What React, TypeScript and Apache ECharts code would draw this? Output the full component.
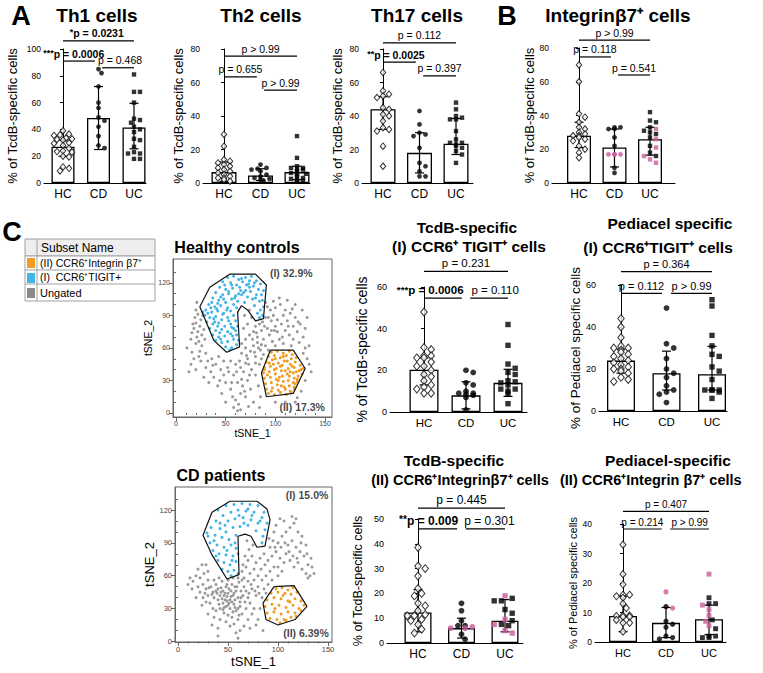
import React, { useEffect, useRef } from "react";
import * as echarts from "echarts";

const FONT = "Liberation Sans, Arial, Helvetica, sans-serif";
const PINK = "#CC5C9C";
const CATS = ["HC", "CD", "UC"];

// ---------- Panel A: Th1 ----------
const th1HC = [39, 36.5, 36, 35.5, 33.5, 33, 32.5, 32, 30, 29.5, 28, 26, 24, 23.5, 23, 20, 19.5, 12, 11, 9];
const th1CD = [85, 82, 72, 60, 56, 49, 46.5, 42, 35, 28, 26];
const th1UC = [81, 68, 68, 60, 48, 47, 45, 42, 40, 38, 33, 32, 27, 23, 22, 22, 18, 18];
const th1Bar = [27, 48.5, 41.5];
const th1Lo = [20, 25, 25.5];
const th1Hi = [32, 72, 59.5];

// ---------- Th2 ----------
const th2HC = [29, 22, 14, 13, 12, 11, 10, 9, 8, 7, 6, 5, 4, 3, 3, 2, 1];
const th2CD = [11, 9, 8.5, 8, 7, 5, 4, 3, 2.5, 2, 1.5];
const th2UC = [28, 15, 10, 9, 9, 8, 8, 7, 6, 5.5, 5, 4, 3, 2.5, 2, 1.5, 1];
const th2Bar = [6.5, 4.5, 6.5];
const th2Lo = [1, 1.5, 2];
const th2Hi = [12.5, 8.5, 10];

// ---------- Th17 ----------
const th17HC = [66, 55, 53, 52, 51, 45, 44, 41, 40, 37, 33, 32, 31, 22, 10];
const th17CD = [43, 35, 30, 29, 28, 21, 12, 10, 7, 4, 4];
const th17UC = [48, 44, 40, 39, 38, 38, 31, 26, 24, 24, 23, 22, 21, 19, 17, 12];
const th17Bar = [44, 18, 23.5];
const th17Lo = [32, 6, 17];
const th17Hi = [51.5, 30, 38.5];

// ---------- Panel B: Integrin b7+ ----------
const intHC = [70, 60, 41, 39, 36, 33, 32, 30, 29, 28, 28, 27, 26, 25, 22, 20, 18, 15];
const intCDBlack = [33, 33, 32, 32, 27, 22, 9, 6];
const intCDPink = [17, 17, 17, 17];
const intUCBlack = [42, 37, 36, 33, 31, 30, 29, 27, 22, 18, 16];
const intUCPink = [32, 26, 21, 16, 14, 12];
const intBar = [28, 21, 26];
const intLo = [21, 9.5, 16.5];
const intHi = [36, 32, 33];

// ---------- TcdB-specific (I) ----------
const tIHC = [48, 31, 30, 27, 27, 26, 26, 24, 22, 22, 20, 18, 17, 15, 13, 12, 11, 9, 9];
const tICD = [20, 19, 14, 13, 10, 9, 9, 8.5, 8, 7, 1];
const tIUC = [42, 32, 23, 21, 19, 18, 15, 14.5, 14, 13, 11, 11, 10, 9, 4];
const tIBar = [20.3, 8, 14];
const tILo = [13, 1.5, 7.5];
const tIHi = [26, 14.5, 20.5];

// ---------- Pediacel specific (I) ----------
const pIHC = [44, 40, 35, 31, 30, 30, 29, 28, 27, 26, 25, 24, 23, 22, 21, 20, 20, 19, 18, 16, 15, 14];
const pICD = [49, 32, 30, 25, 20, 18, 16, 12, 10, 9, 8, 4];
const pIUC = [53, 50, 36, 31, 27, 26, 21, 19, 15, 10, 10, 10, 10, 9, 6];
const pIBar = [24, 18, 17.5];
const pILo = [18, 10, 10];
const pIHi = [29.5, 28.5, 30.8];

// ---------- TcdB-specific (II) ----------
const tIIHC = [38.5, 31, 30, 27, 22, 20, 19, 16, 15, 13, 11.5, 11, 11, 9.5, 9, 7.5, 5.5, 4];
const tIICDBlack = [16, 13, 9, 7, 7, 3.5, 1.5];
const tIICDPink = [6.5, 6, 6];
const tIIUCBlack = [18, 17, 17, 13.5, 12, 9, 7.5, 7];
const tIIUCPink = [19, 9.5, 7.5, 5, 4];
const tIIBar = [12.3, 6, 9];
const tIILo = [4.5, 2, 4.5];
const tIIHi = [21.5, 10, 17.5];

// ---------- Pediacel-specific (II) ----------
const pIIHC = [33, 23, 19.5, 16, 16, 15.5, 15, 13, 11.5, 9, 9, 8.8, 8.5, 8.5, 7.5, 6.5, 6.5, 3.5];
const pIICDBlack = [12, 7, 6, 5, 2, 1.5, 1];
const pIICDPink = [17, 11.5];
const pIIUCBlack = [15, 13, 13, 7.5, 4.5, 2, 2, 1.5, 1.5];
const pIIUCPink = [23, 12.5, 11, 9, 7, 5.5];
const pIIBar = [8.8, 6.5, 7.7];
const pIILo = [3.5, 1.5, 2.5];
const pIIHi = [15.5, 11.7, 12.5];

// ---------- tSNE (x y pairs) ----------
const HC_BLUE = "52 125 58 126 63 123 70 125 76 126 81 122 85 119 88 113 47 121 55 120 61 118 67 121 73 119 78 117 83 114 86 109 44 116 50 114 57 115 64 116 70 113 75 112 81 109 87 104 40 111 47 109 53 110 60 108 66 109 72 107 77 105 84 103 88 98 37 106 43 104 50 102 56 105 62 103 69 102 79 99 85 95 87 90 82 92 84 88 33 100 39 98 45 99 52 97 58 100 30 95 36 93 42 94 48 92 55 94 61 97 29 90 34 88 40 89 46 86 52 88 58 90 31 84 37 82 43 83 49 80 55 82 60 85 34 78 40 76 46 77 52 75 58 78 37 72 43 70 49 71 55 73 61 72 40 67 46 65 52 66 58 68 63 67 50 61 56 60 61 63 54 58 44 74 47 91 38 87 57 71 62 80 32 92 41 96 65 113 71 118 59 106 45 107 53 112 36 102 68 111 74 116 80 106 51 95 42 80 66 124 74 122 79 120 56 118 49 118 63 110 48 105 35 97 27 93 39 84 53 85 56 79 45 68 60 76 42 101";
const HC_ORANGE = "96 56 102 57 108 55 114 57 117 54 93 52 99 53 105 51 111 53 116 50 121 51 91 47 97 49 103 46 109 48 115 45 120 47 125 44 89 42 95 43 101 41 107 44 113 41 119 42 124 39 128 41 88 37 94 38 100 36 106 39 112 36 118 37 123 34 127 36 89 32 95 33 101 31 107 34 113 30 119 32 122 29 90 27 96 28 102 26 108 29 114 25 120 27 119 24 91 22 97 23 103 21 109 24 115 20 119 22 93 18 99 17 105 19 111 17 116 19 98 45 110 39 104 33 117 43 92 35 106 25 100 50 112 48 121 38 96 20 114 34 108 52 103 30 118 28 94 46 110 22 126 40 99 40 115 38 89 40 105 43 122 31";
const HC_GRAY = "18 78 20 83 22 75 24 80 21 70 25 86 19 88 23 66 26 72 27 90 17 82 22 91 28 77 26 62 20 64 24 57 16 74 29 68 15 45 20 40 25 48 30 42 35 38 28 33 33 28 38 33 42 25 45 40 40 45 48 35 50 28 55 22 52 42 58 35 46 18 36 50 30 55 55 48 18 50 13 38 43 52 60 45 62 28 65 18 60 12 58 5 62 2 63 8 67 25 70 15 72 30 68 38 57 15 50 10 75 22 78 10 80 35 76 40 66 55 70 60 72 50 75 57 78 62 80 52 82 65 85 58 70 68 74 72 78 75 82 70 86 76 88 68 90 62 68 78 72 82 76 88 80 80 84 82 92 78 94 72 96 85 90 88 98 90 100 80 102 75 104 68 100 62 97 66 106 82 108 90 110 76 112 85 95 95 100 97 105 100 110 95 115 92 118 80 120 88 122 75 125 82 128 70 124 65 118 68 114 72 130 78 132 88 127 95 120 100 112 104 104 106 98 103 92 98 90 102 86 63 93 58 69 90 74 95 66 64 64 48 73 45 84 45 80 46 128 55 132 50 134 45 130 30 126 20 122 14 130 60 134 62 136 38 120 10 110 10 100 10 85 15 83 25 84 5 20 95 21 102 15 68 77 68 81 74 87 84 93 88 99 76 107 70 113 80 117 96 123 84 116 62 108 64 102 86 96 76 89 80 83 60 79 56 71 53 65 42 61 38 56 28 44 30 37 44 32 48 23 52 16 56 11 60 48 48 53 38 74 35 70 46 88 54 86 50 66 31 69 20 73 6 65 3";
const CD_BLUE = "40 120 48 124 56 125 64 126 72 125 80 124 86 118 45 115 53 118 60 120 68 119 76 118 84 113 89 108 38 110 50 110 57 112 65 113 73 111 80 108 87 102 33 104 42 103 48 100 55 104 62 105 70 106 78 101 85 96 84 90 30 96 37 97 44 95 51 93 58 97 32 90 39 88 46 86 53 88 58 85 35 83 41 80 48 79 55 78 60 80 40 74 46 72 52 70 58 73 44 66 50 64 56 65 60 62 53 60 36 92 66 108 74 115 42 108 49 83 57 90 70 121 82 110 61 115 47 106 29 99 38 78 54 74";
const CD_ORANGE = "98 48 104 49 110 47 115 49 93 44 100 45 107 44 113 43 119 45 89 38 96 40 103 39 110 37 117 39 123 37 126 33 87 32 94 34 101 33 108 31 115 33 121 30 89 26 96 27 103 25 110 27 117 26 123 28 92 21 99 20 106 20 113 22 118 23 102 17 108 19 97 30 112 36 105 42";
const CD_GRAY = "15 55 18 60 22 58 26 62 20 50 25 52 30 56 28 48 33 50 35 45 38 52 40 48 42 42 45 46 48 50 50 44 52 38 55 42 58 46 60 40 62 36 65 42 45 35 40 38 36 40 48 32 52 30 56 34 58 28 60 30 42 30 46 26 50 24 54 22 38 28 32 35 30 42 25 40 44 55 50 56 54 52 66 50 68 46 70 40 72 35 68 30 64 25 60 20 56 16 52 14 48 18 42 20 36 22 30 25 34 15 40 12 62 10 66 14 70 20 74 25 76 30 78 42 74 48 47 38 53 46 43 45 57 38 51 35 63 46 39 44 49 41 55 27 61 24 45 29 35 30 28 36 22 45 18 40 24 33 72 12 80 20 82 30 84 40 80 50 76 56 70 55 66 58 64 64 68 68 72 62 76 66 80 60 84 56 88 60 92 64 96 68 70 74 74 78 78 72 82 76 86 80 90 74 94 78 98 82 102 76 106 72 100 68 104 64 108 80 112 74 116 68 120 72 124 66 128 62 132 60 110 88 114 92 118 86 122 82 126 78 100 90 104 96 96 100 108 100 112 104 116 108 106 110 95 92 92 86 130 70 134 68 128 88 124 96 120 100 100 60 94 56 90 52 86 48 88 44 130 58 136 62 14 48 12 58 20 66 24 70 28 70 30 64 10 52 57 50 61 54 67 78 71 84 75 88 69 92 98 106 102 112 114 114 118 112 40 5 60 3 58 8 78 15 85 10 65 70 83 66 87 70 91 94 97 86 103 86 107 90 111 82 115 78 119 76 123 90 129 80 133 76 46 42 51 48 54 36 49 37 44 39 41 34 56 44 59 50 53 41 47 44 43 49 38 46 63 40 67 36 62 32 57 31 50 33 46 31 34 43 31 49 27 44 71 44 73 52 77 46 81 44 64 56 60 58 55 58 49 52 41 58 36 56";

const hcGateI = [[34, 116], [54, 128], [80, 128], [91, 118], [88, 87], [80, 85], [72, 95], [66, 99], [62, 93], [64, 61], [51, 56], [38, 67], [24, 98]];
const hcGateII = [[95, 58], [118, 58], [130, 41], [118, 18], [91, 15], [86, 37]];
const cdGateI = [[34, 118], [52, 128], [79, 128], [89, 121], [92, 111], [87, 87], [79, 86], [73, 96], [67, 98], [60, 96], [61, 61], [49, 57], [34, 79], [25, 97]];
const cdGateII = [[96, 50], [116, 51], [129, 32], [117, 20], [100, 15], [88, 20], [85, 35]];
const hcPct = ["(I) 32.9%", "(II) 17.3%"];
const cdPct = ["(I) 15.0%", "(II) 6.39%"];

function parsePts(s: string): number[][] {
  const n = s.trim().split(/\s+/).map(Number);
  const out: number[][] = [];
  for (let i = 0; i + 1 < n.length; i += 2) out.push([n[i], n[i + 1]]);
  return out;
}

type Br = { a: number; b: number; y: number; t: string; pre?: string; bold?: boolean; dx?: number };
type Panel = {
  hc: number[]; cdB: number[]; cdP?: number[]; ucB: number[]; ucP?: number[];
  bar: number[]; lo: number[]; hi: number[]; br: Br[];
  axisX: number; right: number; top: number; zero: number; cHC: number; cUC: number;
  yMax: number; yInt: number; barW: number; sym: number; yName: string; nameGap: number;
  tickFont: number; catFont: number; nameFont: number; pFont: number;
};

const TOP = { tickFont: 8.5, catFont: 12, nameFont: 13, pFont: 10.5, sym: 5, yName: "% of TcdB-specific cells" };

const panels: Panel[] = [
  { ...TOP, hc: th1HC, cdB: th1CD, ucB: th1UC, bar: th1Bar, lo: th1Lo, hi: th1Hi,
    br: [{ a: 0, b: 2, y: 106, t: "p = 0.0231", pre: "*", bold: true }, { a: 0, b: 1, y: 91, t: "p = 0.0006", pre: "***", bold: true }, { a: 1, b: 2, y: 86, t: "p = 0.468", dx: 2 }],
    axisX: 44, right: 146, top: 49, zero: 183, cHC: 63, cUC: 134, yMax: 100, yInt: 20, barW: 23, nameGap: 25.5 },
  { ...TOP, hc: th2HC, cdB: th2CD, ucB: th2UC, bar: th2Bar, lo: th2Lo, hi: th2Hi,
    br: [{ a: 0, b: 2, y: 75.8, t: "p > 0.99" }, { a: 0, b: 1, y: 63.3, t: "p = 0.655" }, { a: 1, b: 2, y: 55.5, t: "p > 0.99" }],
    axisX: 203, right: 310, top: 49, zero: 183, cHC: 224, cUC: 297, yMax: 80, yInt: 20, barW: 25, nameGap: 18.5 },
  { ...TOP, hc: th17HC, cdB: th17CD, ucB: th17UC, bar: th17Bar, lo: th17Lo, hi: th17Hi,
    br: [{ a: 0, b: 2, y: 83.6, t: "p = 0.112" }, { a: 0, b: 1, y: 72.2, t: "p = 0.0025", pre: "**", bold: true }, { a: 1, b: 2, y: 64, t: "p = 0.397" }],
    axisX: 362, right: 473, top: 49, zero: 183, cHC: 383, cUC: 456, yMax: 80, yInt: 20, barW: 25, nameGap: 18.5 },
  { ...TOP, hc: intHC, cdB: intCDBlack, cdP: intCDPink, ucB: intUCBlack, ucP: intUCPink, bar: intBar, lo: intLo, hi: intHi,
    br: [{ a: 0, b: 2, y: 84.7, t: "p > 0.99" }, { a: 0, b: 1, y: 74.7, t: "p = 0.118" }, { a: 1, b: 2, y: 64, t: "p = 0.541" }],
    axisX: 552, right: 675, top: 48, zero: 183, cHC: 579, cUC: 650, yMax: 80, yInt: 20, barW: 24, nameGap: 15.5 },
  { hc: tIHC, cdB: tICD, ucB: tIUC, bar: tIBar, lo: tILo, hi: tIHi,
    br: [{ a: 0, b: 2, y: 67.5, t: "p = 0.231" }, { a: 0, b: 1, y: 54.7, t: "p = 0.0006", pre: "***", bold: true, dx: -7 }, { a: 1, b: 2, y: 54.7, t: "p = 0.110", dx: 6 }],
    axisX: 390, right: 527, top: 287, zero: 412, cHC: 424, cUC: 508, yMax: 60, yInt: 20, barW: 29, sym: 6,
    yName: "% of TcdB-specific cells", nameGap: 21, tickFont: 9, catFont: 11.5, nameFont: 14, pFont: 11.5 },
  { hc: pIHC, cdB: pICD, ucB: pIUC, bar: pIBar, lo: pILo, hi: pIHi,
    br: [{ a: 0, b: 2, y: 66.4, t: "p = 0.364" }, { a: 0, b: 1, y: 56, t: "p = 0.112" }, { a: 1, b: 2, y: 56, t: "p > 0.99" }],
    axisX: 599, right: 727, top: 285, zero: 411, cHC: 621, cUC: 712, yMax: 60, yInt: 20, barW: 28, sym: 6,
    yName: "% of Pediacel specific cells", nameGap: 17, tickFont: 9, catFont: 11.5, nameFont: 13.5, pFont: 11 },
  { hc: tIIHC, cdB: tIICDBlack, cdP: tIICDPink, ucB: tIIUCBlack, ucP: tIIUCPink, bar: tIIBar, lo: tIILo, hi: tIIHi,
    br: [{ a: 0, b: 2, y: 54.4, t: "p = 0.445" }, { a: 0, b: 1, y: 46, t: "p = 0.009", pre: "**", bold: true, dx: -5 }, { a: 1, b: 2, y: 46, t: "p = 0.301", dx: 4 }],
    axisX: 387, right: 523, top: 519, zero: 643, cHC: 418, cUC: 505, yMax: 50, yInt: 10, barW: 27, sym: 6,
    yName: "% of TcdB-specific cells", nameGap: 23, tickFont: 9, catFont: 12, nameFont: 12.5, pFont: 12 },
  { hc: pIIHC, cdB: pIICDBlack, cdP: pIICDPink, ucB: pIIUCBlack, ucP: pIIUCPink, bar: pIIBar, lo: pIILo, hi: pIIHi,
    br: [{ a: 0, b: 2, y: 44.3, t: "p = 0.407" }, { a: 0, b: 1, y: 38.3, t: "p = 0.214" }, { a: 1, b: 2, y: 38.3, t: "p > 0.99" }],
    axisX: 595, right: 726, top: 524, zero: 642, cHC: 623, cUC: 709, yMax: 40, yInt: 10, barW: 28, sym: 5.5,
    yName: "% of Pediacel specific cells", nameGap: 11.5, tickFont: 8.5, catFont: 11, nameFont: 11, pFont: 10 },
];

const tsne = [
  { left: 173, top: 259, width: 159, height: 158, xMin: -3, xMax: 157, yMin: -3.7, yMax: 142,
    gray: HC_GRAY, blue: HC_BLUE, orange: HC_ORANGE, gI: hcGateI, gII: hcGateII, pct: hcPct,
    posI: [116, 129], posII: [127, 5.5], nameFont: 10.5, tickFont: 7, yGap: 20, xGap: 9 },
  { left: 175, top: 487, width: 157, height: 155, xMin: -3, xMax: 154, yMin: -0.5, yMax: 141,
    gray: CD_GRAY, blue: CD_BLUE, orange: CD_ORANGE, gI: cdGateI, gII: cdGateII, pct: cdPct,
    posI: [129, 134], posII: [128, 8], nameFont: 13, tickFont: 7.5, yGap: 13, xGap: 13 },
];

let measureCtx: CanvasRenderingContext2D | null = null;
function textW(t: string, size: number, bold: boolean): number {
  if (!measureCtx) measureCtx = document.createElement("canvas").getContext("2d");
  if (!measureCtx) return t.length * size * 0.55;
  measureCtx.font = `${bold ? "bold " : ""}${size}px "Liberation Sans", Arial, sans-serif`;
  return measureCtx.measureText(t).width;
}

function swarm(vals: number[], ppu: number, sym: number, maxHalf: number): number[] {
  const order = vals.map((_, i) => i).sort((a, b) => vals[b] - vals[a]);
  const step = sym * 0.6;
  const cands: number[] = [0];
  for (let k = 1; k <= 12; k++) {
    const c = Math.ceil(k / 2) * step * (k % 2 === 1 ? 1 : -1);
    if (Math.abs(c) <= maxHalf) cands.push(c);
  }
  const placed: { py: number; dx: number }[] = [];
  const out = new Array(vals.length).fill(0);
  for (const i of order) {
    const py = vals[i] * ppu;
    let best = 0;
    let bestC = Infinity;
    for (const c of cands) {
      let conf = 0;
      for (const q of placed) {
        const dy = q.py - py;
        const dx = q.dx - c;
        if (dx * dx + dy * dy < sym * sym * 0.95) conf++;
      }
      if (conf === 0) { best = c; bestC = 0; break; }
      if (conf < bestC) { bestC = conf; best = c; }
    }
    placed.push({ py, dx: best });
    out[i] = best;
  }
  return out;
}

function txt(text: string, x: number, y: number, size: number, bold = true, align = "center"): any {
  return {
    type: "text", x, y, silent: true,
    style: {
      text, fill: "#000", fontSize: size, fontWeight: bold ? "bold" : "normal", fontFamily: FONT,
      align, verticalAlign: "middle", textAlign: align, textVerticalAlign: "middle",
    },
  };
}

function buildOption(): any {
  const grid: any[] = [];
  const xAxis: any[] = [];
  const yAxis: any[] = [];
  const series: any[] = [];
  const black = { color: "#000", width: 1 };

  panels.forEach((p) => {
    const gi = grid.length;
    grid.push({ left: p.axisX, top: p.top, width: p.right - p.axisX, height: p.zero - p.top });
    const band = (p.cUC - p.cHC) / 2;
    const xi = xAxis.length;
    xAxis.push({
      type: "value", gridIndex: gi, position: "bottom",
      min: -(p.cHC - p.axisX) / band, max: 2 + (p.right - p.cUC) / band,
      axisLine: { show: true, onZero: false, lineStyle: black },
      axisTick: { show: false },
      splitLine: { show: false },
      axisLabel: {
        customValues: [0, 1, 2], formatter: (v: number) => CATS[Math.round(v)] ?? "",
        fontSize: p.catFont, color: "#000", fontFamily: FONT, margin: 5,
      },
    });
    const yi = yAxis.length;
    yAxis.push({
      type: "value", gridIndex: gi, min: 0, max: p.yMax, interval: p.yInt,
      axisLine: { show: true, lineStyle: black },
      axisTick: { show: true, length: 3, lineStyle: black },
      splitLine: { show: false },
      axisLabel: { fontSize: p.tickFont, color: "#000", fontFamily: FONT, margin: 3 },
      name: p.yName, nameLocation: "middle", nameGap: p.nameGap, nameRotate: 90,
      nameTextStyle: { fontSize: p.nameFont, color: "#000", fontFamily: FONT },
    });
    const ppu = (p.zero - p.top) / p.yMax;
    series.push({
      type: "bar", xAxisIndex: xi, yAxisIndex: yi, barWidth: p.barW, silent: true, z: 2,
      itemStyle: { color: "#fff", borderColor: "#000", borderWidth: 1.3 },
      data: p.bar.map((v, k) => [k, v]),
    });
    series.push({
      type: "custom", xAxisIndex: xi, yAxisIndex: yi, silent: true, z: 3,
      encode: { x: 0, y: [1, 2] },
      data: p.lo.map((lo, k) => [k, lo, p.hi[k]]),
      renderItem: (_: any, api: any) => {
        const k = api.value(0);
        const t = api.coord([k, api.value(2)]);
        const b = api.coord([k, api.value(1)]);
        const w = 4.5;
        const st = { stroke: "#000", lineWidth: 1.2 };
        return {
          type: "group",
          children: [
            { type: "line", shape: { x1: t[0], y1: t[1], x2: b[0], y2: b[1] }, style: st },
            { type: "line", shape: { x1: t[0] - w, y1: t[1], x2: t[0] + w, y2: t[1] }, style: st },
            { type: "line", shape: { x1: b[0] - w, y1: b[1], x2: b[0] + w, y2: b[1] }, style: st },
          ],
        };
      },
    });
    const maxHalf = p.barW / 2 - 1.5;
    const hcOff = swarm(p.hc, ppu, p.sym, maxHalf);
    series.push({
      type: "scatter", xAxisIndex: xi, yAxisIndex: yi, silent: true, z: 5,
      symbol: "diamond", symbolSize: [p.sym + 0.5, p.sym * 1.3],
      itemStyle: { color: "#fff", borderColor: "#000", borderWidth: 1 },
      data: p.hc.map((v, j) => [hcOff[j] / band, v]),
    });
    const groups = [
      { k: 1, b: p.cdB, pk: p.cdP || [], symbol: "circle", size: p.sym - 0.2 },
      { k: 2, b: p.ucB, pk: p.ucP || [], symbol: "rect", size: p.sym - 0.6 },
    ];
    groups.forEach((g) => {
      const vals = [...g.b, ...g.pk];
      const off = swarm(vals, ppu, p.sym, maxHalf);
      series.push({
        type: "scatter", xAxisIndex: xi, yAxisIndex: yi, silent: true, z: 5,
        symbol: g.symbol, symbolSize: g.size, itemStyle: { color: "#000" },
        data: vals.map((v, j) =>
          j >= g.b.length
            ? { value: [g.k + off[j] / band, v], itemStyle: { color: PINK } }
            : { value: [g.k + off[j] / band, v] }),
      });
    });
    series.push({
      type: "custom", xAxisIndex: xi, yAxisIndex: yi, silent: true, z: 6, clip: false,
      encode: { x: [0, 1], y: 2 },
      data: p.br.map((b, k) => [b.a, b.b, b.y, k]),
      renderItem: (_: any, api: any) => {
        const a = api.value(0);
        const bb = api.value(1);
        const y = api.value(2);
        const br = p.br[api.value(3)];
        const x1 = a + (a === 1 ? 0.1 : 0);
        const x2 = bb - (bb === 1 ? 0.1 : 0);
        const p1 = api.coord([x1, y]);
        const p2 = api.coord([x2, y]);
        const cx = (p1[0] + p2[0]) / 2 + (br.dx || 0);
        const bold = !!br.bold;
        const children: any[] = [
          { type: "line", shape: { x1: p1[0], y1: p1[1], x2: p2[0], y2: p2[1] }, style: { stroke: "#000", lineWidth: 1.2 } },
          { type: "text", x: cx, y: p1[1] - 2, style: { text: br.t, fill: "#000", fontSize: p.pFont, fontWeight: bold ? "bold" : "normal", fontFamily: FONT, align: "center", verticalAlign: "bottom" } },
        ];
        if (br.pre) {
          const w = textW(br.t, p.pFont, bold);
          children.push({ type: "text", x: cx - w / 2, y: p1[1] - 4, style: { text: br.pre, fill: "#000", fontSize: p.pFont * 0.85, fontWeight: "bold", fontFamily: FONT, align: "right", verticalAlign: "bottom" } });
        }
        return { type: "group", children };
      },
    });
  });

  const gcol = "#666";
  tsne.forEach((t) => {
    const gi = grid.length;
    grid.push({ left: t.left, top: t.top, width: t.width, height: t.height, show: true, borderColor: gcol, borderWidth: 1, backgroundColor: "transparent" });
    const xi = xAxis.length;
    const xMaj = [0, 50, 100, 150];
    const xMin = [10, 20, 30, 40, 60, 70, 80, 90, 110, 120, 130, 140];
    const yMaj = [0, 30, 60, 90, 120];
    const yMin = [10, 20, 40, 50, 70, 80, 100, 110, 130];
    xAxis.push({
      type: "value", gridIndex: gi, position: "bottom", min: t.xMin, max: t.xMax,
      axisLine: { show: true, onZero: false, lineStyle: { color: gcol, width: 1 } },
      axisTick: { show: true, customValues: xMaj, length: 4, lineStyle: { color: gcol } },
      axisLabel: { customValues: xMaj, fontSize: t.tickFont, color: "#444", fontFamily: FONT, margin: 3 },
      splitLine: { show: false },
      name: "tSNE_1", nameLocation: "middle", nameGap: t.xGap,
      nameTextStyle: { fontSize: t.nameFont, color: "#000", fontFamily: FONT },
    });
    xAxis.push({
      type: "value", gridIndex: gi, position: "bottom", min: t.xMin, max: t.xMax,
      axisLine: { show: false },
      axisTick: { show: true, customValues: xMin, length: 2, lineStyle: { color: gcol } },
      axisLabel: { show: false }, splitLine: { show: false },
    });
    const yi = yAxis.length;
    yAxis.push({
      type: "value", gridIndex: gi, position: "left", min: t.yMin, max: t.yMax,
      axisLine: { show: true, onZero: false, lineStyle: { color: gcol, width: 1 } },
      axisTick: { show: true, customValues: yMaj, length: 4, lineStyle: { color: gcol } },
      axisLabel: { customValues: yMaj, fontSize: t.tickFont, color: "#444", fontFamily: FONT, margin: 3 },
      splitLine: { show: false },
      name: "tSNE_2", nameLocation: "middle", nameGap: t.yGap, nameRotate: 90,
      nameTextStyle: { fontSize: t.nameFont, color: "#000", fontFamily: FONT },
    });
    yAxis.push({
      type: "value", gridIndex: gi, position: "left", min: t.yMin, max: t.yMax,
      axisLine: { show: false },
      axisTick: { show: true, customValues: yMin, length: 2, lineStyle: { color: gcol } },
      axisLabel: { show: false }, splitLine: { show: false },
    });
    const sc = (d: string, color: string, z: number) => ({
      type: "scatter", xAxisIndex: xi, yAxisIndex: yi, silent: true, z,
      symbol: "circle", symbolSize: 3, itemStyle: { color, opacity: 1 }, data: parsePts(d),
    });
    series.push(sc(t.gray, "#999999", 2));
    series.push(sc(t.blue, "#42B4E6", 3));
    series.push(sc(t.orange, "#F29A22", 3));
    [t.gI, t.gII].forEach((g) => {
      series.push({
        type: "line", xAxisIndex: xi, yAxisIndex: yi, silent: true, z: 4, symbol: "none",
        lineStyle: { color: "#111", width: 1.2 }, data: [...g, g[0]],
      });
    });
    series.push({
      type: "scatter", xAxisIndex: xi, yAxisIndex: yi, silent: true, z: 6, symbolSize: 0,
      label: { show: true, position: "inside", formatter: (pp: any) => pp.name, fontSize: 10.5, fontWeight: "bold", color: "#111", fontFamily: FONT },
      data: [{ name: t.pct[0], value: t.posI }, { name: t.pct[1], value: t.posII }],
    });
  });

  const graphic: any[] = [
    txt("A", 21, 16, 27),
    txt("Th1 cells", 97, 15, 19),
    txt("Th2 cells", 261, 15, 19),
    txt("Th17 cells", 417, 15, 19),
    txt("B", 507, 16, 27),
    txt("Integrinβ7⁺ cells", 618, 15, 19),
    txt("C", 12, 232, 27),
    txt("Healthy controls", 237, 247, 16),
    txt("CD patients", 221, 475, 16),
    txt("TcdB-specific", 467, 227, 15.5),
    txt("(I) CCR6⁺ TIGIT⁺ cells", 469, 246, 15.5),
    txt("Pediacel specific", 670, 223, 15.5),
    txt("(I) CCR6⁺TIGIT⁺ cells", 658, 247, 15.5),
    txt("TcdB-specific", 454, 460, 15.5),
    txt("(II) CCR6⁺Integrinβ7⁺ cells", 460, 480, 14.5),
    txt("Pediacel-specific", 668, 460, 15.5),
    txt("(II) CCR6⁺Integrin β7⁺ cells", 560, 480, 14.5, true, "left"),
    // legend table
    { type: "rect", silent: true, shape: { x: 25, y: 239, width: 130, height: 17 }, style: { fill: "#eeeeee", stroke: "#a0a0a0", lineWidth: 1 } },
    { type: "rect", silent: true, shape: { x: 25, y: 256, width: 130, height: 45 }, style: { fill: "#ffffff", stroke: "#a0a0a0", lineWidth: 1 } },
    { type: "line", silent: true, shape: { x1: 25, y1: 270, x2: 155, y2: 270 }, style: { stroke: "#a0a0a0", lineWidth: 1 } },
    { type: "line", silent: true, shape: { x1: 25, y1: 284, x2: 155, y2: 284 }, style: { stroke: "#a0a0a0", lineWidth: 1 } },
    { type: "line", silent: true, shape: { x1: 37, y1: 239, x2: 37, y2: 301 }, style: { stroke: "#a0a0a0", lineWidth: 1 } },
    { type: "rect", silent: true, shape: { x: 27, y: 258, width: 8, height: 10 }, style: { fill: "#F29A22" } },
    { type: "rect", silent: true, shape: { x: 27, y: 273, width: 8, height: 10 }, style: { fill: "#42B4E6" } },
    { type: "rect", silent: true, shape: { x: 27, y: 288, width: 8, height: 10 }, style: { fill: "#8a8a8a" } },
    txt("Subset Name", 41, 248, 12, false, "left"),
    txt("(II) CCR6⁺Integrin β7⁺", 40, 263, 10.5, false, "left"),
    txt("(I)  CCR6⁺TIGIT+", 40, 277, 10.5, false, "left"),
    txt("Ungated", 40, 293, 11, false, "left"),
  ];

  return { animation: false, backgroundColor: "#fff", grid, xAxis, yAxis, series, graphic };
}

export default function App() {
  const ref = useRef<HTMLDivElement>(null);
  useEffect(() => {
    if (!ref.current) return;
    const chart = echarts.init(ref.current, null, { renderer: "svg" });
    chart.setOption(buildOption());
    return () => chart.dispose();
  }, []);
  return <div ref={ref} style={{ position: "absolute", left: 0, top: 0, width: 763, height: 673 }} />;
}
